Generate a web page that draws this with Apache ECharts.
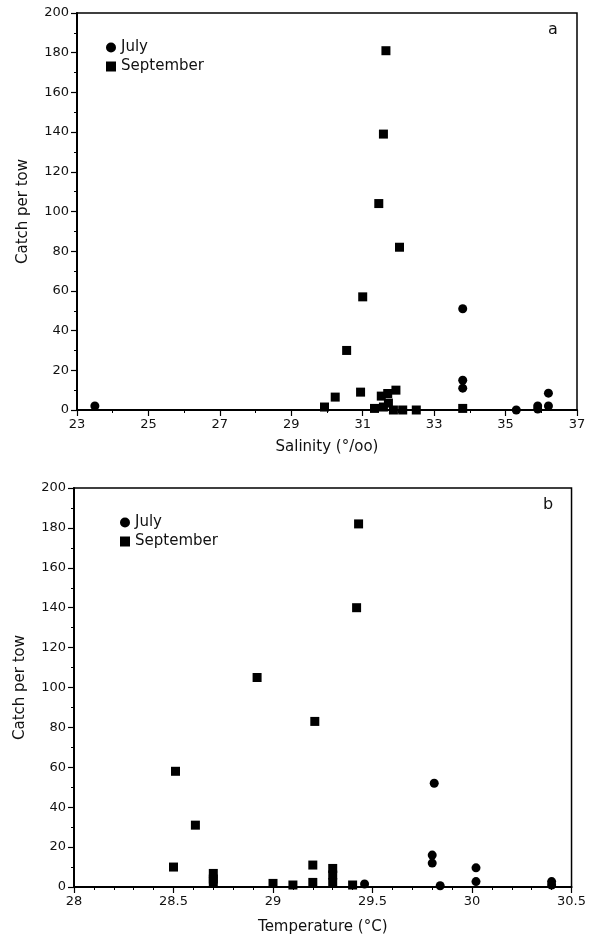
<!DOCTYPE html>
<html>
<head>
<meta charset="utf-8">
<script src="https://cdn.jsdelivr.net/npm/echarts@6/dist/echarts.min.js"></script>
<style>
	html, body { margin: 0; padding: 0; background: #fff; }
	#chart { width: 589px; height: 938px; }
</style>
</head>
<body>
<div id="chart"></div>
<script>
// panel a: salinity vs catch
const julySalinity = [[23.5, 2], [33.8, 51], [33.8, 15], [33.8, 11], [35.3, 0], [35.9, 2], [35.9, 0.5], [36.2, 8.5], [36.2, 2]]
const septSalinity = [
	[31.65, 181], [31.58, 139], [31.45, 104], [32.03, 82], [31.0, 57], [30.55, 30],
	[30.94, 9], [30.23, 6.5], [29.93, 1.5], [31.33, 0.8], [31.52, 7], [31.7, 8.3],
	[31.93, 10], [31.72, 3.5], [31.58, 1.5], [31.86, 0], [32.12, 0], [32.5, 0], [33.8, 0.8]
]
// panel b: temperature vs catch
const julyTemp = [[29.81, 52], [29.8, 16], [29.8, 12], [29.46, 1.5], [29.84, 0.6], [30.02, 9.6], [30.02, 2.7], [30.4, 2.7], [30.4, 1]]
const septTemp = [
	[29.43, 182], [29.42, 140], [28.92, 105], [29.21, 83], [28.51, 58], [28.61, 31],
	[28.5, 10], [28.7, 6.8], [28.7, 4], [28.7, 2.5], [29.0, 1.8], [29.1, 1],
	[29.2, 11], [29.2, 2.3], [29.3, 9.3], [29.3, 6], [29.3, 2.2], [29.4, 1]
]

const font = 'DejaVu Sans'
const txt = '#111'

function xAxis(idx, min, max, interval, minorSplit, name) {
	return {
		type: 'value', gridIndex: idx, min: min, max: max, interval: interval,
		name: name, nameLocation: 'middle', nameGap: idx === 0 ? 30 : 33,
		nameTextStyle: { color: txt, fontFamily: font, fontSize: 15 },
		axisLine: { lineStyle: { color: '#000', width: 2 } },
		axisTick: { length: 6, lineStyle: { color: '#000', width: 1.2 } },
		minorTick: { show: true, splitNumber: minorSplit, length: 3, lineStyle: { color: '#000' } },
		axisLabel: { color: txt, fontFamily: font, fontSize: 13, margin: 8 },
		splitLine: { show: false }
	}
}

function yAxis(idx) {
	return {
		type: 'value', gridIndex: idx, min: 0, max: 200, interval: 20,
		name: 'Catch per tow', nameLocation: 'middle', nameGap: 46,
		nameTextStyle: { color: txt, fontFamily: font, fontSize: 15 },
		axisLine: { lineStyle: { color: '#000', width: 2 } },
		axisTick: { length: 6, lineStyle: { color: '#000', width: 1.2 } },
		minorTick: { show: true, splitNumber: 2, length: 3, lineStyle: { color: '#000' } },
		axisLabel: { color: txt, fontFamily: font, fontSize: 13, margin: 8 },
		splitLine: { show: false }
	}
}

function series(name, data, idx, symbol) {
	return {
		name: name, type: 'scatter', data: data, xAxisIndex: idx, yAxisIndex: idx,
		symbol: symbol, symbolSize: 9,
		itemStyle: { color: '#000', opacity: 1 }, silent: true
	}
}

const chart = echarts.init(document.getElementById('chart'), null, { renderer: 'canvas' })
chart.setOption({
	animation: false,
	backgroundColor: '#fff',
	grid: [
		{ left: 77, right: 12, top: 13, height: 397, show: true, borderColor: '#000', borderWidth: 1.5 },
		{ left: 74, right: 15, top: 488, height: 399, show: true, borderColor: '#000', borderWidth: 1.5 }
	],
	xAxis: [
		xAxis(0, 23, 37, 2, 2, 'Salinity (°/oo)'),
		xAxis(1, 28, 30.5, 0.5, 5, 'Temperature (°C)')
	],
	yAxis: [yAxis(0), yAxis(1)],
	legend: [
		{
			orient: 'vertical', left: 101, top: 35, itemGap: 4, itemWidth: 10, itemHeight: 10,
			textStyle: { color: txt, fontFamily: font, fontSize: 15 },
			data: [{ name: 'July', icon: 'circle' }, { name: 'September', icon: 'rect' }]
		},
		{
			orient: 'vertical', left: 115, top: 510, itemGap: 4, itemWidth: 10, itemHeight: 10,
			textStyle: { color: txt, fontFamily: font, fontSize: 15 },
			data: [{ name: 'July ', icon: 'circle' }, { name: 'September ', icon: 'rect' }]
		}
	],
	graphic: [
		{ type: 'text', left: 548, top: 22, style: { text: 'a', font: '16px ' + font, fill: txt } },
		{ type: 'text', left: 543, top: 497, style: { text: 'b', font: '16px ' + font, fill: txt } }
	],
	series: [
		series('July', julySalinity, 0, 'circle'),
		series('September', septSalinity, 0, 'rect'),
		series('July ', julyTemp, 1, 'circle'),
		series('September ', septTemp, 1, 'rect')
	]
})
</script>
</body>
</html>
